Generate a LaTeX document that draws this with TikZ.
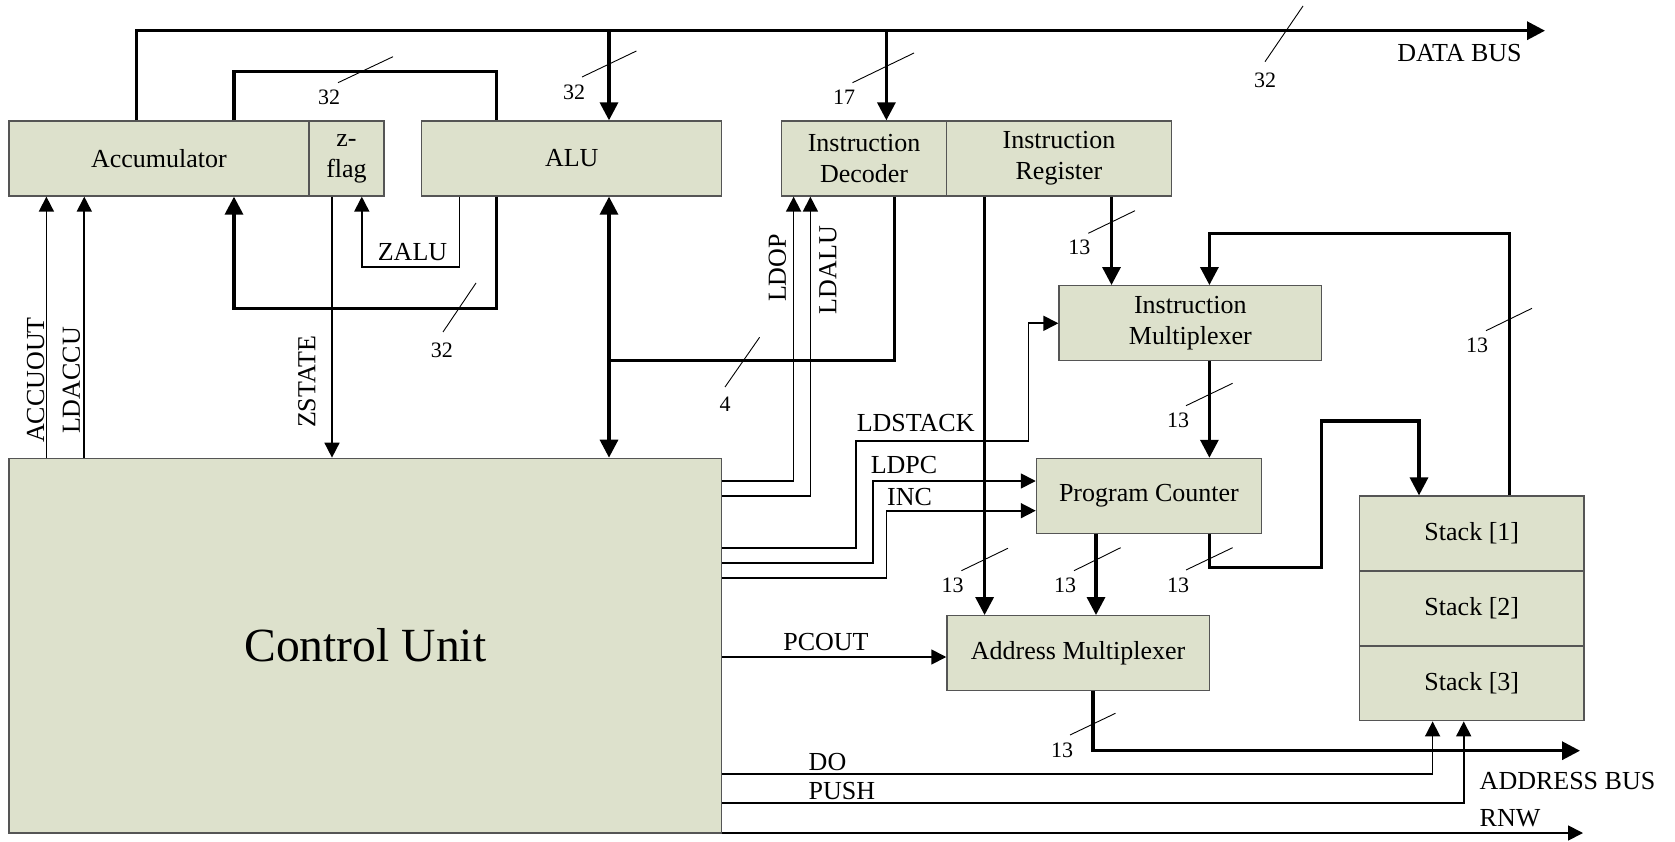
\documentclass[tikz,border=0pt]{standalone}
\usepackage{fontspec}
\setmainfont{Liberation Serif}
\usetikzlibrary{arrows.meta}
\definecolor{boxfill}{RGB}{221,225,204}
\definecolor{boxline}{RGB}{85,85,85}
\begin{document}
\begin{tikzpicture}[x=1pt,y=-1pt,
  box/.style={draw=boxline, fill=boxfill, line width=1.3pt, inner sep=0pt, align=center, font=\fontsize{26}{31}\selectfont},
  bus/.style={line width=3.3pt},
  sig/.style={line width=1.7pt},
  barrow/.style={-{Triangle[length=18pt,width=18pt]}},
  bdouble/.style={{Triangle[length=18pt,width=18pt]}-{Triangle[length=18pt,width=18pt]}},
  sarrow/.style={-{Triangle[length=15pt,width=15pt]}},
  lbl/.style={inner sep=0pt, font=\fontsize{26}{31}\selectfont},
  num/.style={inner sep=0pt, font=\fontsize{22}{26}\selectfont},
  tick/.style={line width=0.9pt}]
\useasboundingbox (0,0) rectangle (1675,842);

% boxes
\node[box, minimum width=300.1, minimum height=75] (acc) at (158.95,158.5) {Accumulator};
\node[box, minimum width=75, minimum height=75] (zf) at (346.5,158.5) {z-\\flag};
\node[box, minimum width=300, minimum height=75] (alu) at (571.8,158.5) {ALU};
\node[box, minimum width=164.6, minimum height=75] (id) at (864.1,158.5) {Instruction\\Decoder};
\node[box, minimum width=225.1, minimum height=75] (ir) at (1058.95,158.5) {Instruction\\Register};
\node[box, minimum width=262.7, minimum height=75] (im) at (1190.35,323.2) {Instruction\\Multiplexer};
\node[box, minimum width=225, minimum height=75] (pc) at (1148.9,495.9) {Program Counter};
\node[box, minimum width=262.4, minimum height=74.6] (am) at (1078.1,653) {Address Multiplexer};
\node[box, minimum width=224.5, minimum height=74.9] (st1) at (1471.75,533.5) {Stack [1]};
\node[box, minimum width=224.5, minimum height=74.9] (st2) at (1471.75,608.4) {Stack [2]};
\node[box, minimum width=224.5, minimum height=74.9] (st3) at (1471.75,683.3) {Stack [3]};
\node[box, minimum width=712.9, minimum height=374.7, font=\fontsize{47.6}{50}\selectfont] (cu) at (365.35,645.65) {Control Unit};

% coordinates
\coordinate (dbend) at (1545,30.7);
\coordinate (xa) at (136.8,0);
\coordinate (xalu) at (609,0);
\coordinate (xid) at (886.4,0);
\coordinate (lt) at (234,71.7);
\coordinate (xr) at (496.4,0);
\coordinate (lb) at (234,308.3);
\coordinate (za) at (459.6,0);
\coordinate (zb) at (361.8,266.7);
\coordinate (zs) at (332,0);
\coordinate (ao) at (46.4,0);
\coordinate (la) at (84.3,0);
\coordinate (j4) at (894.3,360.7);
\coordinate (ldop) at (793.6,480.7);
\coordinate (ldalu) at (810.4,495.7);
\coordinate (s1) at (856,547.7);
\coordinate (s2) at (1028.6,441.3);
\coordinate (s3) at (1028.6,323.3);
\coordinate (p1) at (872.9,563.3);
\coordinate (p2) at (872.9,481);
\coordinate (i1) at (886.4,577.7);
\coordinate (i2) at (886.4,510.7);
\coordinate (ira) at (984.6,0);
\coordinate (iri) at (1111.5,0);
\coordinate (imp) at (1209.4,0);
\coordinate (pca) at (1096,0);
\coordinate (q1) at (1321.7,567.7);
\coordinate (q2) at (1419,421);
\coordinate (r1) at (1509.2,233.3);
\coordinate (a1) at (1093,750.7);
\coordinate (abend) at (1580,750.7);
\coordinate (pco) at (0,657);
\coordinate (d1) at (1432.6,773.7);
\coordinate (d2) at (1463.7,802.7);
\coordinate (rnw) at (1583,833);

% buses
\draw[bus,barrow] (acc.north -| xa) |- (dbend);
\draw[bus,barrow] (xalu |- dbend) -- (alu.north -| xalu);
\draw[bus,barrow] (xid |- dbend) -- (id.north -| xid);
\draw[bus] (acc.north -| lt) -- (lt) -| (alu.north -| xr);
\draw[bus,barrow] (alu.south -| xr) |- (lb) -- (acc.south -| lb);
\draw[bus,bdouble] (alu.south -| xalu) -- (cu.north -| xalu);
\draw[bus] (id.south -| j4) -- (j4) -- (xalu |- j4);
\draw[bus,barrow] (ir.south -| ira) -- (am.north -| ira);
\draw[bus,barrow] (ir.south -| iri) -- (im.north -| iri);
\draw[bus,barrow] (im.south -| imp) -- (pc.north -| imp);
\draw[bus,barrow] (pc.south -| pca) -- (am.north -| pca);
\draw[bus,barrow] (pc.south -| imp) |- (q1) |- (q2) -- (st1.north -| q2);
\draw[bus,barrow] (st1.north -| r1) -- (r1) -| (im.north -| imp);
\draw[bus,barrow] (am.south -| a1) |- (abend);

% signals
\draw[sig,sarrow] (alu.south -| za) |- (zb) -- (zf.south -| zb);
\draw[sig,sarrow] (zf.south -| zs) -- (cu.north -| zs);
\draw[sig,sarrow] (cu.north -| ao) -- (acc.south -| ao);
\draw[sig,sarrow] (cu.north -| la) -- (acc.south -| la);
\draw[sig,sarrow] (cu.east |- ldop) -| (id.south -| ldop);
\draw[sig,sarrow] (cu.east |- ldalu) -| (id.south -| ldalu);
\draw[sig,sarrow] (cu.east |- s1) -- (s1) |- (s2) -- (s3) -- (im.west |- s3);
\draw[sig,sarrow] (cu.east |- p1) -- (p1) -- (p2) -- (pc.west |- p2);
\draw[sig,sarrow] (cu.east |- i1) -- (i1) -- (i2) -- (pc.west |- i2);
\draw[sig,sarrow] (cu.east |- pco) -- (am.west |- pco);
\draw[sig,sarrow] (cu.east |- d1) -| (st3.south -| d1);
\draw[sig,sarrow] (cu.east |- d2) -| (st3.south -| d2);
\draw[sig,sarrow] (cu.east |- rnw) -- (rnw);

% signal labels
\node[lbl] (tzalu) at (412.5,251.7) {ZALU};
\node[lbl, rotate=90] (taccuout) at (35.7,380) {ACCUOUT};
\node[lbl, rotate=90] (tldaccu) at (71.4,380.5) {LDACCU};
\node[lbl, rotate=90] (tzstate) at (307,382) {ZSTATE};
\node[lbl, rotate=90] (tldop) at (777.5,268) {LDOP};
\node[lbl, rotate=90] (tldalu) at (828,270) {LDALU};
\node[lbl] (tldstack) at (915.7,423.3) {LDSTACK};
\node[lbl] (tldpc) at (904,465) {LDPC};
\node[lbl] (tinc) at (909.6,496.7) {INC};
\node[lbl] (tpcout) at (826,641.7) {PCOUT};
\node[lbl] (tdo) at (827.5,761.7) {DO};
\node[lbl] (tpush) at (841.8,791) {PUSH};
\node[lbl] (trnw) at (1510,817.7) {RNW};
\node[lbl] (taddr) at (1567.5,781) {ADDRESS BUS};
\node[lbl] (tdata) at (1459.5,53) {DATA BUS};

% bus widths
\node[num] (w1) at (329,97) {32};   \draw[tick] (338,82.7) -- (393,56.7);
\node[num] (w2) at (574,92) {32};   \draw[tick] (582,77) -- (636.4,51);
\node[num] (w3) at (844,97) {17};   \draw[tick] (852.5,82.7) -- (914,53);
\node[num] (w4) at (1265,80) {32};  \draw[tick] (1265,61.7) -- (1303,6);
\node[num] (w5) at (441.8,350) {32}; \draw[tick] (443,332) -- (476,283);
\node[num] (w6) at (725,404) {4};   \draw[tick] (725,387) -- (759.6,337.3);
\node[num] (w7) at (1079.3,247.3) {13}; \draw[tick] (1088.3,233.3) -- (1135,210.7);
\node[num] (w8) at (1178,420) {13}; \draw[tick] (1186,405.7) -- (1232.6,383.3);
\node[num] (w9) at (1477,345) {13}; \draw[tick] (1486,330.7) -- (1532,308.3);
\node[num] (w10) at (1178,585) {13}; \draw[tick] (1186,570) -- (1232.6,547.7);
\node[num] (w11) at (952.5,585) {13}; \draw[tick] (961.4,570.7) -- (1007.9,548.3);
\node[num] (w12) at (1065,585) {13}; \draw[tick] (1074,570.7) -- (1120.6,547.7);
\node[num] (w13) at (1062,750.7) {13}; \draw[tick] (1070,735) -- (1115.4,713.3);
\end{tikzpicture}
\end{document}
